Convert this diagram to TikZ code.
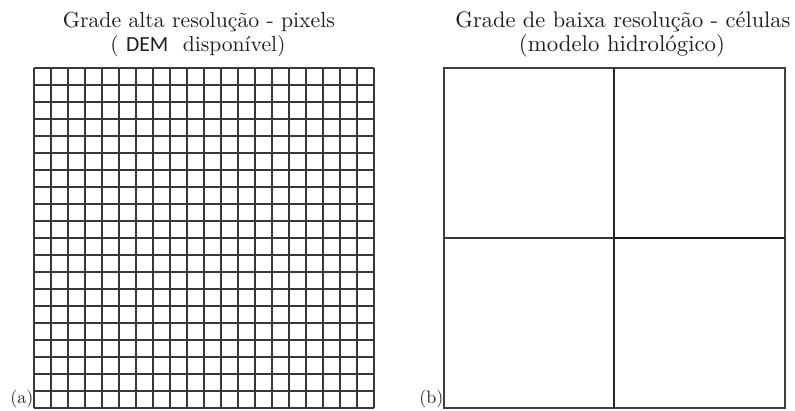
\documentclass[tikz,border=0pt]{standalone}
\usepackage{fontspec}
\newfontfamily\carl{Carlito}
\newcommand{\titlefit}[2]{\resizebox{#1}{!}{#2}}
\tikzset{
  titletext/.style={anchor=base, inner sep=0pt, text=black!88},
  panellabel/.style={anchor=base east, inner sep=0pt, text=black!85},
  fineline/.style={draw=black!78, line width=1.2bp},
  frameline/.style={draw=black!75, line width=1.3bp},
  midline/.style={draw=black!85, line width=1.6bp},
  heavyline/.style={draw=black!90, line width=2.2bp}
}
\begin{document}
\begin{tikzpicture}[x=1bp,y=-1bp]
\useasboundingbox (0,0) rectangle (795,410);
% titles
\node[titletext] (t1a) at (199,27) {\titlefit{272bp}{Grade alta resolução - pixels}};
\node[titletext] (t1b) at (198,51) {\titlefit{175bp}{( {\carl DEM}\ \ disponível)}};
\node[titletext] (t2a) at (623,27) {\titlefit{335bp}{Grade de baixa resolução - células}};
\node[titletext] (t2b) at (622,51) {\titlefit{206bp}{(modelo hidrológico)}};
% left fine grid 20 x 20, pitch 17
\foreach \i in {0,...,20} {
  \draw[fineline] (34+17*\i,68) -- (34+17*\i,408);
  \draw[fineline] (34,68+17*\i) -- (374,68+17*\i);
}
% right coarse grid 2 x 2
\draw[frameline] (444,68) rectangle (785,408);
\draw[midline] (614,68) -- (614,408);
\draw[fineline] (444,238) -- (614,238);
\draw[heavyline] (614,238) -- (785,238);
% panel labels
\node[panellabel] (la) at (33.5,403) {\titlefit{23bp}{(a)}};
\node[panellabel] (lb) at (443.5,403) {\titlefit{24bp}{(b)}};
\end{tikzpicture}
\end{document}
